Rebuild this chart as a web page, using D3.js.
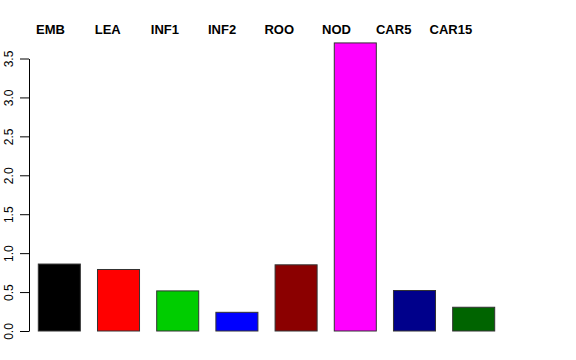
<!DOCTYPE html>
<html>
<head>
<meta charset="utf-8">
<script src="https://cdn.jsdelivr.net/npm/d3@7"></script>
<style>
  body { margin: 0; background: #fff; }
  text { font-family: "Liberation Sans", Arial, sans-serif; }
</style>
</head>
<body>
<svg width="576" height="360"></svg>
<script>
// data
var categories = ["EMB", "LEA", "INF1", "INF2", "ROO", "NOD", "CAR5", "CAR15"];
var values = [0.86, 0.79, 0.515, 0.24, 0.85, 3.70, 0.52, 0.305];
var colors = ["#000000", "#FF0000", "#00CD00", "#0000FF", "#8B0000", "#FF00FF", "#00008B", "#006400"];
var yTicks = [0, 0.5, 1, 1.5, 2, 2.5, 3, 3.5];

var svg = d3.select("svg");

var x = d3.scaleBand()
  .domain(categories)
  .range([38.3, 494.7])
  .paddingInner(0.29)
  .paddingOuter(0);

// labels on top sit on a slightly different spacing
var xLab = d3.scalePoint()
  .domain(categories)
  .range([50.5, 450.9]);

var y = d3.scaleLinear()
  .domain([0, 3.5])
  .range([331, 58.5]);

// bars
svg.append("g")
  .selectAll("rect")
  .data(values)
  .join("rect")
    .attr("x", function(d, i) { return x(categories[i]); })
    .attr("y", function(d) { return y(d); })
    .attr("width", x.bandwidth())
    .attr("height", function(d) { return y(0) - y(d); })
    .attr("fill", function(d, i) { return colors[i]; })
    .attr("stroke", "#333")
    .attr("stroke-width", 1);

// y axis, R style with rotated labels
var yAxis = svg.append("g")
  .attr("transform", "translate(29,0)")
  .call(d3.axisLeft(y).tickValues(yTicks).tickSize(9).tickSizeOuter(0)
        .tickFormat(d3.format(".1f")));

yAxis.select(".domain").attr("stroke", "#000");
yAxis.selectAll(".tick line").attr("stroke", "#000");
yAxis.selectAll(".tick text")
  .attr("font-size", 12)
  .attr("fill", "#000")
  .attr("text-anchor", "middle")
  .attr("x", null)
  .attr("dy", null)
  .attr("transform", "translate(-15.7,0) rotate(-90)");

// category labels
svg.append("g")
  .selectAll("text")
  .data(categories)
  .join("text")
    .attr("x", function(d) { return xLab(d); })
    .attr("y", 33.5)
    .attr("text-anchor", "middle")
    .attr("font-size", 13)
    .attr("font-weight", "bold")
    .text(function(d) { return d; });
</script>
</body>
</html>
